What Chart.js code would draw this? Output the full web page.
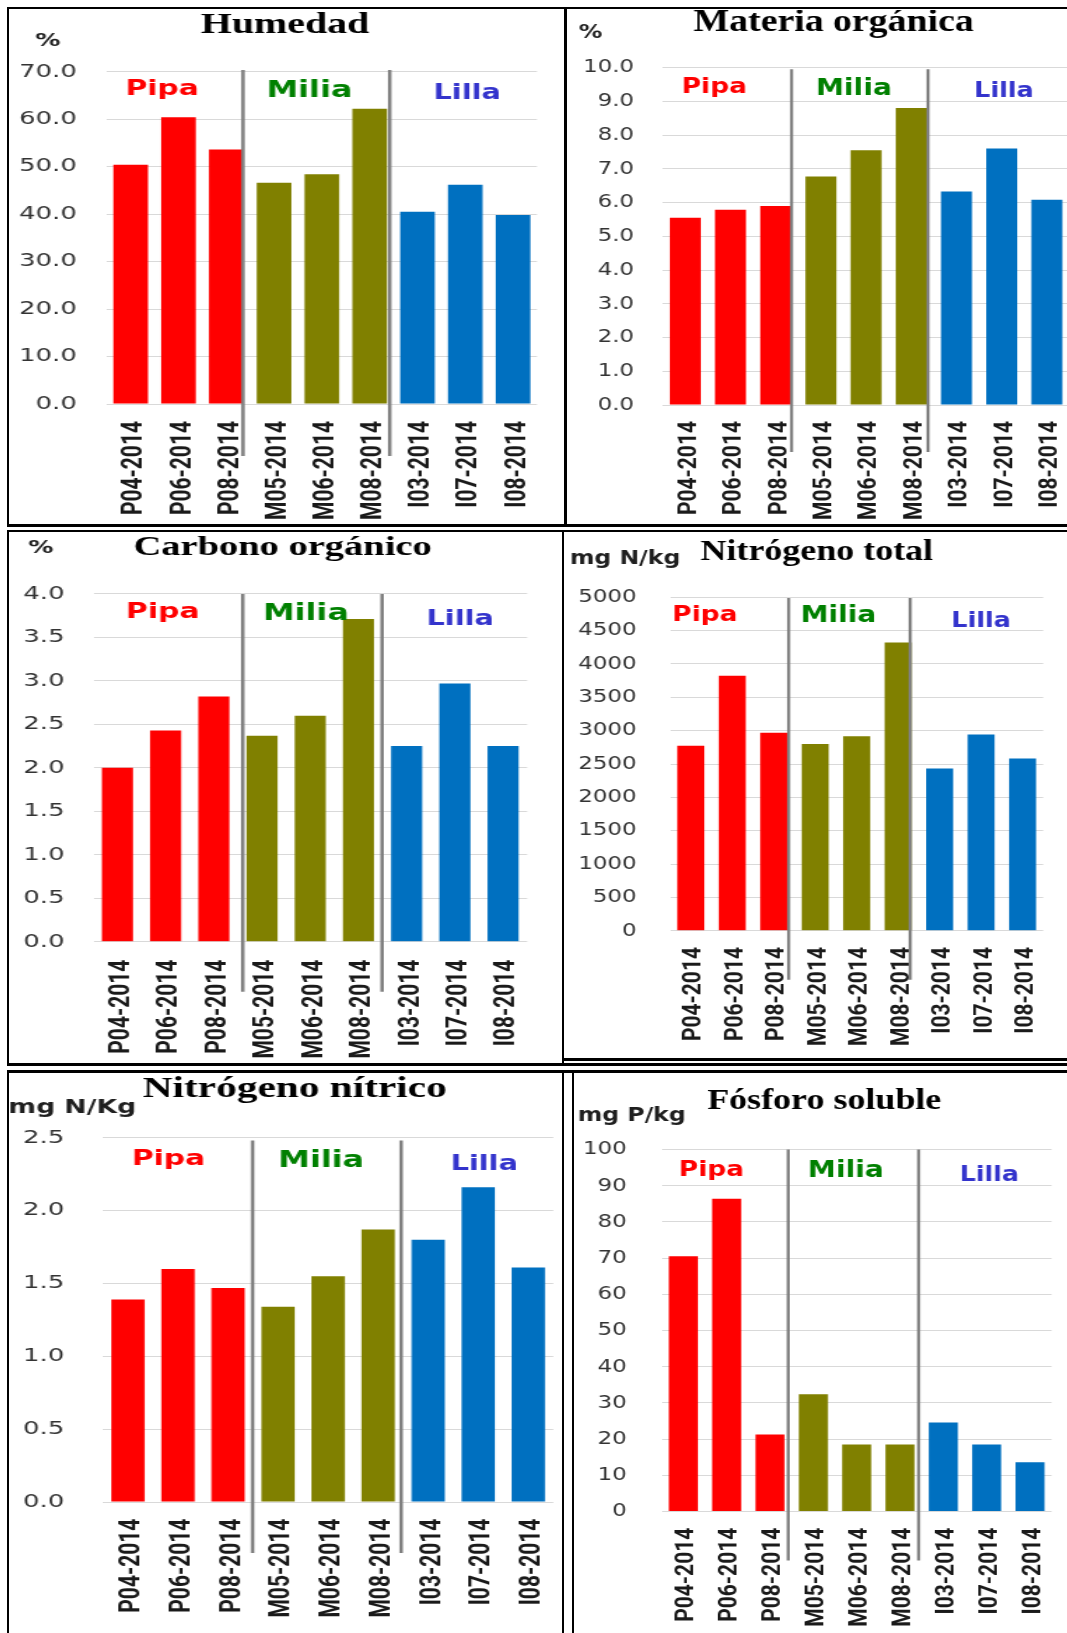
<!DOCTYPE html>
<html>
<head>
<meta charset="utf-8">
<title>Parámetros del suelo</title>
<script src="https://cdn.jsdelivr.net/npm/chart.js@4.4.1/dist/chart.umd.min.js"></script>
<style>
  html, body { margin: 0; padding: 0; background: #fff; }
  body { width: 1067px; height: 1633px; position: relative; overflow: hidden; }
  .panel { position: absolute; transform-origin: 0 0; }
  .panel canvas { display: block; }
  .rule { position: absolute; background: #000; z-index: 5; }
</style>
</head>
<body>
<script>
// Sample codes (Pipa, Milia, Lilla sites, 2014)
const categories = ['P04-2014', 'P06-2014', 'P08-2014', 'M05-2014', 'M06-2014', 'M08-2014', 'I03-2014', 'I07-2014', 'I08-2014'];

// Measured values per sample
const humedad          = [50.4, 60.4, 53.6, 46.6, 48.4, 62.2, 40.5, 46.2, 39.8];
const materiaOrganica  = [5.55, 5.79, 5.90, 6.77, 7.55, 8.80, 6.33, 7.60, 6.08];
const carbonoOrganico  = [2.00, 2.43, 2.82, 2.37, 2.60, 3.71, 2.25, 2.97, 2.25];
const nitrogenoTotal   = [2774, 3822, 2970, 2800, 2918, 4323, 2433, 2944, 2583];
const nitrogenoNitrico = [1.39, 1.60, 1.47, 1.34, 1.55, 1.87, 1.80, 2.16, 1.61];
const fosforoSoluble   = [70.5, 86.4, 21.3, 32.4, 18.5, 18.5, 24.6, 18.5, 13.6];

// Y-axis tick values
const humedadTicks   = [0, 10, 20, 30, 40, 50, 60, 70];
const materiaTicks   = [0, 1, 2, 3, 4, 5, 6, 7, 8, 9, 10];
const carbonoTicks   = [0, 0.5, 1, 1.5, 2, 2.5, 3, 3.5, 4];
const nTotalTicks    = [0, 500, 1000, 1500, 2000, 2500, 3000, 3500, 4000, 4500, 5000];
const nNitricoTicks  = [0, 0.5, 1, 1.5, 2, 2.5];
const fosforoTicks   = [0, 10, 20, 30, 40, 50, 60, 70, 80, 90, 100];

// Site groups
const groupNames = ['Pipa', 'Milia', 'Lilla'];
const groupTextColors = ['#ff0000', '#008000', '#3333cc'];
const barColors = ['#ff0000', '#ff0000', '#ff0000', '#808000', '#808000', '#808000', '#0070c0', '#0070c0', '#0070c0'];

// Panel layout (canvas units; each panel is stretched horizontally by k)
const panels = [
  { values: humedad, ticks: humedadTicks, decimals: 1, title: 'Humedad', unit: '%',
    x: 10, y: 10, w: 396, h: 514, k: 1.4,
    area: { left: 69.1, right: 376.4, top: 61.7, bottom: 394 }, yPad: 21.4, xPad: 17, bar: 0.725,
    titlePos: [196.4, 15.5], titleSize: 28.5, unitPos: [26.9, 31.6], unitSize: 18,
    groupPos: [[0.66, 17.8], [3.74, 19.4], [7.04, 22.1]], sep: [2.35, 5.42], sepTop: -1.7, sepBottom: 52 },
  { values: materiaOrganica, ticks: materiaTicks, decimals: 1, title: 'Materia orgánica', unit: '%',
    x: 567, y: 10, w: 420, h: 514, k: 1.24,
    area: { left: 77.2, right: 405.2, top: 57.6, bottom: 395 }, yPad: 23.1, xPad: 16, bar: 0.686,
    titlePos: [215, 13], titleSize: 30.5, unitPos: [19.1, 23], unitSize: 19,
    groupPos: [[0.64, 20.1], [3.73, 21.1], [7.05, 24.5]], sep: [2.35, 5.37], sepTop: 1.7, sepBottom: 47 },
  { values: carbonoOrganico, ticks: carbonoTicks, decimals: 1, title: 'Carbono orgánico', unit: '%',
    x: 10, y: 532, w: 394, h: 531, k: 1.4,
    area: { left: 59.5, right: 369.4, top: 61.9, bottom: 409.7 }, yPad: 20.6, xPad: 17.9, bar: 0.645,
    titlePos: [194.7, 15.6], titleSize: 27.5, unitPos: [22.1, 16.4], unitSize: 18,
    groupPos: [[0.94, 18.5], [3.91, 20.1], [7.11, 25.4]], sep: [2.6, 5.49], sepTop: 0, sepBottom: 50 },
  { values: nitrogenoTotal, ticks: nTotalTicks, decimals: 0, title: 'Nitrógeno total', unit: 'mg N/kg',
    x: 564, y: 532, w: 405, h: 526, k: 1.24,
    area: { left: 85.5, right: 386.5, top: 65.3, bottom: 398.7 }, yPad: 26.9, xPad: 16.3, bar: 0.65,
    titlePos: [203.8, 20.6], titleSize: 29, unitPos: [49.2, 27.4], unitSize: 19,
    groupPos: [[0.34, 18], [3.56, 19.1], [7.0, 23.9]], sep: [2.36, 5.29], sepTop: 0.7, sepBottom: 49 },
  { values: nitrogenoNitrico, ticks: nNitricoTicks, decimals: 1, title: 'Nitrógeno nítrico', unit: 'mg N/Kg',
    x: 9, y: 1073, w: 402, h: 560, k: 1.4,
    area: { left: 67.1, right: 388.8, top: 64.8, bottom: 429.1 }, yPad: 27.6, xPad: 16.5, bar: 0.666,
    titlePos: [204.1, 16.7], titleSize: 29.5, unitPos: [45.2, 34.8], unitSize: 19,
    groupPos: [[0.81, 21.6], [3.86, 23.1], [7.12, 26.5]], sep: [2.49, 5.46], sepTop: 2.6, sepBottom: 51 },
  { values: fosforoSoluble, ticks: fosforoTicks, decimals: 0, title: 'Fósforo soluble', unit: 'mg P/kg',
    x: 574, y: 1073, w: 400, h: 560, k: 1.24,
    area: { left: 70.7, right: 385.2, top: 76.5, bottom: 438.6 }, yPad: 28.2, xPad: 16.1, bar: 0.67,
    titlePos: [201.8, 28.6], titleSize: 29, unitPos: [46.5, 43.5], unitSize: 19,
    groupPos: [[0.65, 20.5], [3.75, 21.2], [7.06, 26.5]], sep: [2.42, 5.43], sepTop: 0, sepBottom: 49 }
];
const groupSizes = [21.3, 22.7, 20.5];

// Titles, unit labels, site names and the grey separators between sites
const annotate = {
  id: 'annotate',
  afterDatasetsDraw(chart, args, p) {
    const ctx = chart.ctx;
    const xs = chart.scales.x;
    const a = chart.chartArea;
    ctx.save();
    ctx.strokeStyle = '#808080';
    ctx.lineWidth = 2.5;
    p.sep.forEach(s => {
      const x = xs.getPixelForValue(s);
      ctx.beginPath();
      ctx.moveTo(x, a.top + p.sepTop);
      ctx.lineTo(x, a.bottom + p.sepBottom);
      ctx.stroke();
    });
    ctx.textAlign = 'center';
    ctx.textBaseline = 'middle';
    groupNames.forEach((g, i) => {
      ctx.font = `bold ${groupSizes[i]}px 'DejaVu Sans'`;
      ctx.fillStyle = groupTextColors[i];
      ctx.fillText(g, xs.getPixelForValue(p.groupPos[i][0]), a.top + p.groupPos[i][1]);
    });
    ctx.fillStyle = '#000';
    ctx.font = `bold ${p.titleSize}px 'Liberation Serif'`;
    ctx.fillText(p.title, p.titlePos[0], p.titlePos[1]);
    ctx.fillStyle = '#1f1f1f';
    ctx.font = `bold ${p.unitSize}px 'DejaVu Sans'`;
    ctx.fillText(p.unit, p.unitPos[0], p.unitPos[1]);
    ctx.restore();
  }
};

function buildPanel(p) {
  const box = document.createElement('div');
  box.className = 'panel';
  box.style.left = p.x + 'px';
  box.style.top = p.y + 'px';
  box.style.width = p.w + 'px';
  box.style.height = p.h + 'px';
  box.style.transform = `scaleX(${p.k})`;
  const cv = document.createElement('canvas');
  cv.width = p.w;
  cv.height = p.h;
  box.appendChild(cv);
  document.body.appendChild(box);

  new Chart(cv, {
    type: 'bar',
    data: {
      labels: categories,
      datasets: [{
        data: p.values,
        backgroundColor: barColors,
        borderWidth: 0,
        barPercentage: p.bar,
        categoryPercentage: 1
      }]
    },
    options: {
      responsive: false,
      maintainAspectRatio: false,
      animation: false,
      devicePixelRatio: 1,
      layout: { padding: { left: 0, top: p.area.top, right: p.w - p.area.right, bottom: 0 } },
      plugins: { legend: { display: false }, tooltip: { enabled: false }, title: { display: false }, annotate: p },
      scales: {
        x: {
          grid: { display: false, drawTicks: false },
          border: { display: false },
          ticks: {
            autoSkip: false, minRotation: 90, maxRotation: 90, padding: p.xPad, labelOffset: 3,
            font: { family: 'Roboto', size: 21, weight: 'bold' }, color: '#1a1a1a'
          },
          afterFit(s) { s.height = p.h - p.area.bottom; s.paddingLeft = 0; s.paddingRight = 0; }
        },
        y: {
          min: 0,
          max: p.ticks[p.ticks.length - 1],
          grid: { color: '#d9d9d9', lineWidth: 1, drawTicks: false },
          border: { display: false },
          afterBuildTicks(s) { s.ticks = p.ticks.map(v => ({ value: v })); },
          ticks: {
            padding: p.yPad,
            font: { family: 'DejaVu Sans', size: 18.5 },
            color: '#333333',
            callback: v => Number(v).toFixed(p.decimals)
          },
          afterFit(s) { s.width = p.area.left; s.paddingTop = 0; s.paddingBottom = 0; }
        }
      }
    },
    plugins: [annotate]
  });
}

panels.forEach(buildPanel);

// Black frame lines around the six panels
const rules = [
  [7, 7, 1060, 2], [7, 7, 2, 520], [564, 7, 3, 520], [7, 524, 1060, 3],
  [7, 530, 1060, 2], [7, 530, 2, 536], [562, 530, 2, 536], [562, 1058, 505, 3],
  [7, 1063, 1060, 3], [7, 1070, 1060, 3], [7, 1070, 2, 563], [562, 1070, 2, 563], [572, 1070, 2, 563]
];
rules.forEach(([l, t, w, h]) => {
  const d = document.createElement('div');
  d.className = 'rule';
  d.style.left = l + 'px';
  d.style.top = t + 'px';
  d.style.width = w + 'px';
  d.style.height = h + 'px';
  document.body.appendChild(d);
});
</script>
</body>
</html>
